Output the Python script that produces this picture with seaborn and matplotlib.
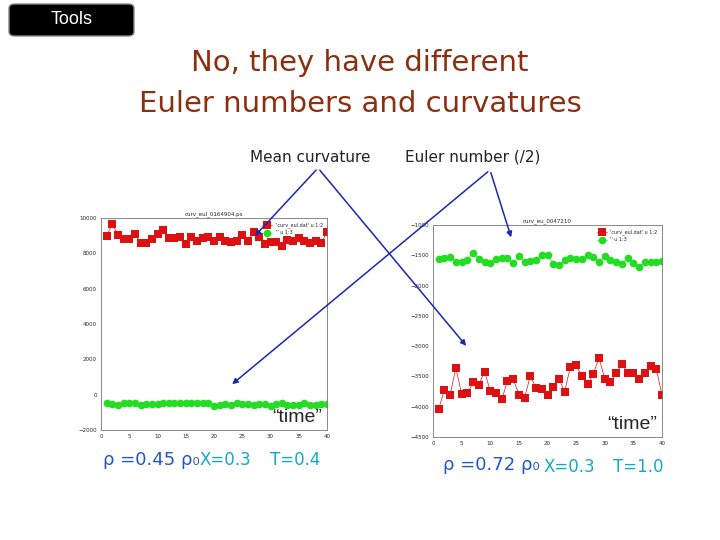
import numpy as np
import pandas as pd
import seaborn as sns
import matplotlib.pyplot as plt
from matplotlib.patches import FancyBboxPatch, FancyArrowPatch

sns.set_theme(style="white")
plt.rcParams['font.family'] = ['DejaVu Sans']

time = list(range(1, 41))
left_curv = [8990, 9660, 9050, 8800, 8820, 9070, 8570, 8610, 8820, 9120, 9330, 8840, 8840, 8900, 8550,
             8900, 8670, 8840, 8900, 8700, 8900, 8700, 8630, 8690, 9010, 8700, 9180, 8930, 8550, 8630,
             8650, 8440, 8760, 8670, 8840, 8720, 8570, 8720, 8590, 9200]
left_euler = [-500, -520, -560, -480, -490, -470, -580, -530, -520, -510, -500, -480, -490, -500, -480,
              -500, -490, -480, -470, -640, -560, -540, -560, -500, -510, -540, -580, -520, -540, -620,
              -540, -470, -580, -590, -570, -470, -560, -560, -550, -530]
right_curv = [-4030, -3720, -3800, -3360, -3790, -3780, -3600, -3640, -3420, -3740, -3770, -3880, -3580,
              -3540, -3800, -3850, -3490, -3690, -3700, -3810, -3680, -3540, -3750, -3340, -3310, -3500,
              -3630, -3460, -3190, -3540, -3590, -3450, -3290, -3440, -3440, -3540, -3450, -3330, -3380, -3800]
right_euler = [-1567, -1540, -1523, -1606, -1617, -1578, -1457, -1562, -1606, -1623, -1562, -1540,
               -1540, -1634, -1507, -1606, -1595, -1584, -1496, -1496, -1645, -1661, -1578, -1551,
               -1562, -1567, -1496, -1523, -1617, -1512, -1578, -1617, -1639, -1540, -1634, -1700,
               -1606, -1606, -1606, -1600]

fig = plt.figure(figsize=(7.2, 5.4), dpi=100)
W, H = 720, 540
def fx(x): return x / W
def fy(y): return 1 - y / H

def panel(rect, curv, euler, ylim, yticks, title, lab1):
    ax = fig.add_axes(rect)
    df = pd.DataFrame({"t": time, "curv": curv, "euler": euler})
    sns.lineplot(data=df, x="t", y="curv", ax=ax, color="#dd1111", marker="s", markersize=6,
                 linewidth=0.5, markeredgewidth=0, label=lab1)
    sns.lineplot(data=df, x="t", y="euler", ax=ax, color="#22dd22", marker="o", markersize=5.5,
                 linewidth=0.5, markeredgewidth=0, label="'' u 1:3")
    ax.set_xlim(0, 40)
    ax.set_ylim(*ylim)
    ax.set_yticks(yticks)
    ax.set_xticks(range(0, 41, 5))
    ax.tick_params(labelsize=4, length=2, pad=1)
    ax.set_xlabel(""); ax.set_ylabel("")
    ax.set_title(title, fontsize=4, pad=2)
    ax.legend(fontsize=3.5, frameon=False, loc="upper right", handlelength=2)
    for s in ax.spines.values():
        s.set_color("#777777"); s.set_linewidth(0.6)
    ax.text(0.98, 0.02, "\u201ctime\u201d", transform=ax.transAxes, ha="right", va="bottom",
            fontsize=14, family="Liberation Sans")
    return ax

panel([fx(101), fy(430), fx(226) , (430 - 218) / H], left_curv, left_euler, (-2000, 10000),
      range(-2000, 10001, 2000), "curv_eul_0164904.ps", "'curv_eul.dat' u 1:2")
panel([fx(433), fy(437), fx(229), (437 - 225) / H], right_curv, right_euler, (-4500, -1000),
      range(-4500, -999, 500), "curv_eu_0047210", "'curv_eul.dat' u 1:2")

fig.add_artist(FancyBboxPatch((fx(9), fy(36)), fx(125), (36 - 4) / H, boxstyle="round,pad=0,rounding_size=0.008",
                              transform=fig.transFigure, facecolor="black", edgecolor="#888888"))
fig.text(fx(72), fy(20), "Tools", color="white", fontsize=13, ha="center", va="center", family="Liberation Sans")

tc = "#8a3010"
fig.text(fx(360), fy(63), "No, they have different", color=tc, fontsize=21, ha="center", va="center")
fig.text(fx(360), fy(104), "Euler numbers and curvatures", color=tc, fontsize=21, ha="center", va="center")

fig.text(fx(250), fy(157), "Mean curvature", fontsize=11, ha="left", va="center", color="#222222")
fig.text(fx(405), fy(157), "Euler number (/2)", fontsize=11, ha="left", va="center", color="#222222")

ac = "#1a2ab0"
for (x0, y0, x1, y1) in [(318, 168, 253, 238), (318, 168, 468, 348), (490, 170, 512, 240), (490, 170, 230, 386)]:
    fig.add_artist(FancyArrowPatch((fx(x0), fy(y0)), (fx(x1), fy(y1)), transform=fig.transFigure,
                                   arrowstyle="-|>", mutation_scale=8, color=ac, lw=1.1))

bc = "#2255cc"; gc = "#11aacc"
fig.text(fx(103), fy(460), "\u03c1 =0.45 \u03c1\u2080", fontsize=13, color=bc, va="center")
fig.text(fx(200), fy(460), "X=0.3", fontsize=12, color=gc, va="center")
fig.text(fx(270), fy(460), "T=0.4", fontsize=12, color=gc, va="center")
fig.text(fx(443), fy(465), "\u03c1 =0.72 \u03c1\u2080", fontsize=13, color=bc, va="center")
fig.text(fx(543), fy(467), "X=0.3", fontsize=12, color=gc, va="center")
fig.text(fx(613), fy(467), "T=1.0", fontsize=12, color=gc, va="center")

fig.savefig("out.png", dpi=100)
